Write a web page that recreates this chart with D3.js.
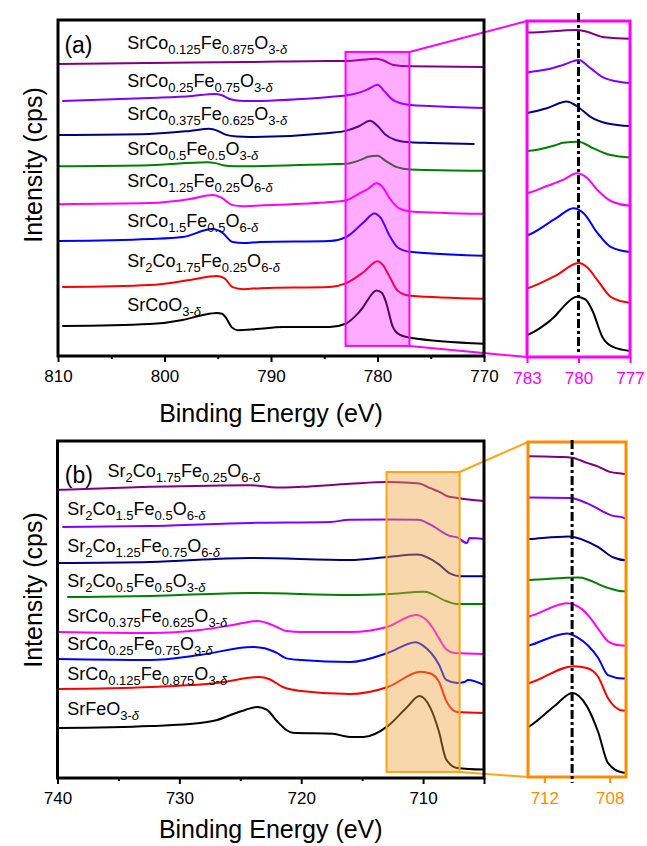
<!DOCTYPE html>
<html>
<head>
<meta charset="utf-8">
<script src="https://cdn.jsdelivr.net/npm/d3@7"></script>
<style>
  body { margin: 0; background: #fff; }
  svg { display: block; font-family: "Liberation Sans", Arial, sans-serif; }
</style>
</head>
<body>
<div id="chart"></div>
<script>
// ---------- Panel (a): Co 2p spectra, [binding energy eV, intensity a.u. (stacked)] ----------
var a_Co0125 = [[810,86.9],[801.4,87.2],[792,87.5],[784.5,87.8],[782.9,87.8],[780.1,88.5],[779.5,88.0],[778.5,86.6],[776.9,86.2],[770,86.0]];
var a_Co025  = [[809.6,75.9],[801.4,76.8],[797.4,77.4],[795.3,78.0],[794.6,77.6],[793.9,76.5],[793,76.0],[792,75.9],[784.5,77.1],[783,77.5],[781.8,78.3],[780.9,79.4],[780,80.7],[779.3,78.6],[778.6,76.3],[777.8,75.2],[776.9,74.7],[775.1,74.4],[769.9,73.8]];
var a_Co0375 = [[810,65.8],[801.4,66.1],[797.6,67.0],[795.8,67.6],[795,67.0],[794.2,65.8],[793.2,65.3],[792,65.2],[784.5,66.4],[783,67.0],[781.8,68.3],[780.7,70.0],[780,68.5],[779.3,66.0],[778.3,64.3],[776.9,63.6],[775.1,63.4],[770.9,63.1]];
var a_Co05   = [[809.9,56.5],[801.4,56.8],[796,57.7],[795.2,57.4],[794.5,56.8],[793.5,56.5],[792,56.5],[784.5,57.1],[783,57.2],[781.4,58.6],[780.9,59.3],[780,59.6],[779.2,58.0],[778.2,56.2],[776.9,55.5],[769.9,55.1]];
var a_Co125  = [[810,45.2],[801.4,45.5],[797.6,46.7],[795.5,47.9],[794.7,47.2],[793.6,44.9],[792.6,44.6],[791,44.8],[784.5,45.8],[783,46.3],[781.8,48.2],[780.9,49.7],[780.1,51.4],[779.5,50.2],[778.9,47.1],[778,44.0],[776.9,43.0],[770.1,42.3]];
var a_Co15   = [[809.9,34.2],[801.4,34.8],[798.3,35.4],[795.5,37.8],[794.6,36.8],[793.6,33.9],[792.6,33.6],[791,33.9],[784.5,34.2],[783,35.3],[781.3,39.8],[780.3,42.4],[779.7,41.1],[778.9,36.0],[778.1,32.3],[776.9,31.0],[769.9,29.8]];
var a_Co175  = [[809.6,20.5],[801.4,21.1],[797.6,22.6],[795.1,23.8],[794.4,23.2],[793.6,20.5],[792.6,19.9],[791,20.2],[784.5,20.5],[783,21.6],[781.3,25.0],[780,28.2],[779.5,27.1],[778.9,23.8],[778.1,19.4],[776.9,17.9],[769.9,17.0]];
var a_SrCoO3 = [[809.6,8.9],[801.4,9.5],[798.3,10.7],[796.4,12.2],[795.1,12.8],[794.6,12.6],[794.2,11.3],[793.7,8.6],[793.1,7.7],[791.4,8.0],[788.9,8.6],[784.5,8.6],[783,9.6],[782.2,11.5],[781.4,14.3],[780.9,16.8],[780.1,19.5],[779.6,18.8],[779.2,16.0],[778.6,9.0],[778,6.5],[776.9,5.4],[769.9,3.6]];

var namesA = ["SrCo_{0.125}Fe_{0.875}O_{3-δ}", "SrCo_{0.25}Fe_{0.75}O_{3-δ}", "SrCo_{0.375}Fe_{0.625}O_{3-δ}",
              "SrCo_{0.5}Fe_{0.5}O_{3-δ}", "SrCo_{1.25}Fe_{0.25}O_{6-δ}", "SrCo_{1.5}Fe_{0.5}O_{6-δ}",
              "Sr_{2}Co_{1.75}Fe_{0.25}O_{6-δ}", "SrCoO_{3-δ}"];
var ticksA = [810, 800, 790, 780, 770];
var minorTicksA = [805, 795, 785, 775];
var insetTicksA = [783, 780, 777];

// ---------- Panel (b): Fe 2p spectra ----------
var b_Co175  = [[740,85.5],[732.4,86.4],[724.2,86.9],[722,86.2],[720,86.4],[716,87.3],[712.9,87.8],[711.1,87.6],[710.3,87.4],[709.4,86.0],[708.7,85.0],[708,83.6],[707.2,83.1],[705,82.2]];
var b_Co15   = [[739.6,74.5],[732.4,74.8],[724.2,75.7],[717.6,76.0],[716,76.6],[712.9,76.7],[710.4,76.6],[709.4,75.2],[707.8,71.8],[707.2,71.4],[706.4,69.7],[706.2,71.2],[705,70.9]];
var b_Co125  = [[740,63.8],[732.4,64.1],[724.2,65.3],[716,64.7],[712.9,65.6],[710.5,66.3],[708.7,63.4],[707.8,60.7],[707,59.9],[705,59.9]];
var b_Co05   = [[739.2,53.7],[732.4,54.0],[724.2,54.9],[716,54.3],[712.9,54.6],[709.9,55.3],[708.1,52.5],[707.2,51.6],[705,51.6]];
var b_Co0375 = [[740,43.3],[732.4,43.0],[728.3,43.9],[725.6,45.4],[723.6,46.6],[722.8,46.0],[722,44.8],[721.2,43.6],[720,43.3],[716,43.3],[712.9,44.9],[710.6,48.4],[709.7,46.8],[709.2,44.5],[708.7,41.5],[708.1,38.2],[707.4,37.1],[705,36.8]];
var b_Co025  = [[740,35.3],[732.4,35.0],[728.3,36.5],[724,38.9],[723,38.5],[722,37.1],[721.2,35.5],[720,35.0],[716,34.4],[712.9,37.1],[710.6,40.3],[710,39.3],[708.7,33.7],[708.1,29.1],[707.2,28.2],[706.6,28.5],[706.3,29.1],[705,27.6]];
var b_Co0125 = [[740,26.4],[732.4,27.0],[726.9,28.2],[723.4,30.0],[722.6,29.3],[721.5,27.0],[720,25.8],[716,24.9],[712.9,27.0],[710.2,31.5],[709.4,31.0],[708.7,28.6],[708.1,22.9],[707.2,19.6],[705,19.3]];
var b_SrFeO3 = [[740,14.8],[732.4,15.4],[728.3,16.3],[726.9,17.2],[725.8,18.7],[724.6,20.2],[723.6,21.1],[722.8,20.2],[722,16.9],[721.2,14.2],[720.7,13.4],[717.4,13.1],[716,12.2],[714.9,12.2],[712.9,15.4],[711.3,21.1],[710.3,24.3],[709.4,20.8],[708.7,13.8],[708.1,5.5],[707.2,3.0],[705,2.5]];

var namesB = ["Sr_{2}Co_{1.75}Fe_{0.25}O_{6-δ}", "Sr_{2}Co_{1.5}Fe_{0.5}O_{6-δ}", "Sr_{2}Co_{1.25}Fe_{0.75}O_{6-δ}",
              "Sr_{2}Co_{0.5}Fe_{0.5}O_{3-δ}", "SrCo_{0.375}Fe_{0.625}O_{3-δ}", "SrCo_{0.25}Fe_{0.75}O_{3-δ}",
              "SrCo_{0.125}Fe_{0.875}O_{3-δ}", "SrFeO_{3-δ}"];
var ticksB = [740, 730, 720, 710, 705];
var minorTicksB = [735, 725, 715];
var insetTicksB = [712, 708];

// trace colours, top to bottom
var traceColors = ["#800080", "#8000ff", "#000080", "#008000", "#ff00ff", "#0000ff", "#ff0000", "#000000"];

// ---------- layout ----------
var W = 647, H = 846;
var svg = d3.select("#chart").append("svg").attr("width", W).attr("height", H);

var panels = [
  {
    id: "a", letter: "(a)",
    traces: [a_Co0125, a_Co025, a_Co0375, a_Co05, a_Co125, a_Co15, a_Co175, a_SrCoO3],
    names: namesA, ticks: ticksA, minor: minorTicksA, insetTicks: insetTicksA,
    xDom: [810, 770], left: 58, right: 484, top: 20, bottom: 356,
    zoomDom: [783, 777], hiY: [3.0, 90.5],
    iLeft: 527, iRight: 630, iTop: 21, iBottom: 357, iyDom: [3.9, 90.8],
    refE: 780, dashY: [13, 353],
    hiFill: "rgba(255,0,255,0.33)", hiStroke: "#ff00ff", insetColor: "#ff00ff", linkColor: "#ff00ff",
    labelX: 803.5, labelV: [91.4, 80.1, 70.2, 59.8, 50.3, 38.4, 26.5, 13.4], labelXs: null,
    letterPos: [809.4, 90.2], titleY: 422, yTitleY: 165
  },
  {
    id: "b", letter: "(b)",
    traces: [b_Co175, b_Co15, b_Co125, b_Co05, b_Co0375, b_Co025, b_Co0125, b_SrFeO3],
    names: namesB, ticks: ticksB, minor: minorTicksB, insetTicks: insetTicksB,
    xDom: [740, 705], left: 57.5, right: 484, top: 441, bottom: 778,
    zoomDom: [713, 707], hiY: [1.8, 90.8],
    iLeft: 528, iRight: 626, iTop: 442, iBottom: 777, iyDom: [1.8, 91.6],
    refE: 710.3, dashY: [440, 783],
    hiFill: "rgba(240,160,60,0.42)", hiStroke: "#ffa510", insetColor: "#ff8c00", linkColor: "#ffa510",
    labelX: 739.2, labelV: [89.3, 78.0, 67.1, 56.7, 46.3, 38.0, 29.1, 18.7], labelXs: [735.9],
    letterPos: [739.4, 87.5], titleY: 838, yTitleY: 590
  }
];

// write "Sr_{2}Co..." as text with subscripts
function richText(sel, str, size, subSize) {
  var parts = str.split(/_\{([^}]*)\}/);
  var shift = 0;
  parts.forEach(function(s, i) {
    if (!s) return;
    if (i % 2 === 0) {
      sel.append("tspan").attr("font-size", size).attr("dy", -shift).text(s);
      shift = 0;
    } else {
      var bits = s.split("δ");
      bits.forEach(function(b, j) {
        if (b) {
          sel.append("tspan").attr("font-size", subSize).attr("dy", 5 - shift).text(b);
          shift = 5;
        }
        if (j < bits.length - 1) {
          sel.append("tspan").attr("font-size", subSize).attr("font-style", "italic")
            .attr("dy", 5 - shift).text("δ");
          shift = 5;
        }
      });
    }
  });
}

panels.forEach(function(p) {
  var x = d3.scaleLinear().domain(p.xDom).range([p.left, p.right]);
  var y = d3.scaleLinear().domain([0, 100]).range([p.bottom, p.top]);
  var xi = d3.scaleLinear().domain(p.zoomDom).range([p.iLeft, p.iRight]);
  var yi = d3.scaleLinear().domain(p.iyDom).range([p.iBottom, p.iTop]);

  var g = svg.append("g");

  svg.append("clipPath").attr("id", "main-" + p.id).append("rect")
    .attr("x", p.left).attr("y", p.top).attr("width", p.right - p.left).attr("height", p.bottom - p.top);
  svg.append("clipPath").attr("id", "inset-" + p.id).append("rect")
    .attr("x", p.iLeft).attr("y", p.iTop).attr("width", p.iRight - p.iLeft).attr("height", p.iBottom - p.iTop);

  var line = d3.line().x(function(d) { return x(d[0]); }).y(function(d) { return y(d[1]); }).curve(d3.curveMonotoneX);
  var lineI = d3.line().x(function(d) { return xi(d[0]); }).y(function(d) { return yi(d[1]); }).curve(d3.curveMonotoneX);

  // spectra
  g.append("g").attr("clip-path", "url(#main-" + p.id + ")")
    .selectAll("path").data(p.traces).enter().append("path")
    .attr("d", line).attr("fill", "none")
    .attr("stroke", function(d, i) { return traceColors[i]; })
    .attr("stroke-width", 2).attr("stroke-linejoin", "round");

  g.append("g").attr("clip-path", "url(#inset-" + p.id + ")")
    .selectAll("path").data(p.traces).enter().append("path")
    .attr("d", lineI).attr("fill", "none")
    .attr("stroke", function(d, i) { return traceColors[i]; })
    .attr("stroke-width", 2).attr("stroke-linejoin", "round");

  // highlighted zoom window
  var hx0 = x(p.zoomDom[0]), hx1 = x(p.zoomDom[1]);
  var hy0 = y(p.hiY[1]), hy1 = y(p.hiY[0]);
  g.append("rect").attr("x", hx0).attr("y", hy0).attr("width", hx1 - hx0).attr("height", hy1 - hy0)
    .attr("fill", p.hiFill).attr("stroke", p.hiStroke).attr("stroke-width", 2);

  // connector lines
  g.append("line").attr("x1", hx1).attr("y1", hy0).attr("x2", p.iLeft).attr("y2", p.iTop)
    .attr("stroke", p.linkColor).attr("stroke-width", 2);
  g.append("line").attr("x1", hx1).attr("y1", hy1).attr("x2", p.iLeft).attr("y2", p.iBottom)
    .attr("stroke", p.linkColor).attr("stroke-width", 2);

  // main axes
  var ax = g.append("g").attr("transform", "translate(0," + p.bottom + ")")
    .call(d3.axisBottom(x).tickValues(p.ticks).tickSize(6).tickPadding(8)
      .tickFormat(function(d) { return (d === 705) ? "" : d; }));
  var axm = g.append("g").attr("transform", "translate(0," + p.bottom + ")")
    .call(d3.axisBottom(x).tickValues(p.minor).tickSize(3).tickFormat(""));
  [ax, axm].forEach(function(a) {
    a.select(".domain").remove();
    a.selectAll("line").attr("stroke", "#000").attr("stroke-width", 2);
    a.selectAll("text").attr("font-size", 17).attr("fill", "#000").attr("font-family", null);
  });

  g.append("rect").attr("x", p.left).attr("y", p.top).attr("width", p.right - p.left).attr("height", p.bottom - p.top)
    .attr("fill", "none").attr("stroke", "#000").attr("stroke-width", 3);

  // inset axis and frame
  var ai = g.append("g").attr("transform", "translate(0," + p.iBottom + ")")
    .call(d3.axisBottom(xi).tickValues(p.insetTicks).tickSize(6).tickPadding(9).tickFormat(d3.format("d")));
  ai.select(".domain").remove();
  ai.selectAll("line").attr("stroke", p.insetColor).attr("stroke-width", 2);
  ai.selectAll("text").attr("font-size", 17).attr("fill", p.insetColor).attr("font-family", null);

  g.append("rect").attr("x", p.iLeft).attr("y", p.iTop).attr("width", p.iRight - p.iLeft).attr("height", p.iBottom - p.iTop)
    .attr("fill", "none").attr("stroke", p.insetColor).attr("stroke-width", 3);

  // reference energy line
  g.append("line").attr("x1", xi(p.refE)).attr("x2", xi(p.refE)).attr("y1", p.dashY[0]).attr("y2", p.dashY[1])
    .attr("stroke", "#000").attr("stroke-width", 3).attr("stroke-dasharray", "9,3,3,3");

  // sample labels
  p.names.forEach(function(n, i) {
    var lx = (p.labelXs && p.labelXs[i] !== undefined) ? p.labelXs[i] : p.labelX;
    var t = g.append("text").attr("x", x(lx)).attr("y", y(p.labelV[i])).attr("fill", "#000");
    richText(t, n, 18, 13);
  });

  g.append("text").attr("x", x(p.letterPos[0])).attr("y", y(p.letterPos[1]))
    .attr("font-size", 23).text(p.letter);

  // axis titles
  g.append("text").attr("x", (p.left + p.right) / 2).attr("y", p.titleY)
    .attr("text-anchor", "middle").attr("font-size", 25).text("Binding Energy (eV)");
  g.append("text").attr("transform", "translate(42," + p.yTitleY + ") rotate(-90)")
    .attr("text-anchor", "middle").attr("font-size", 25).text("Intensity (cps)");
});
</script>
</body>
</html>
